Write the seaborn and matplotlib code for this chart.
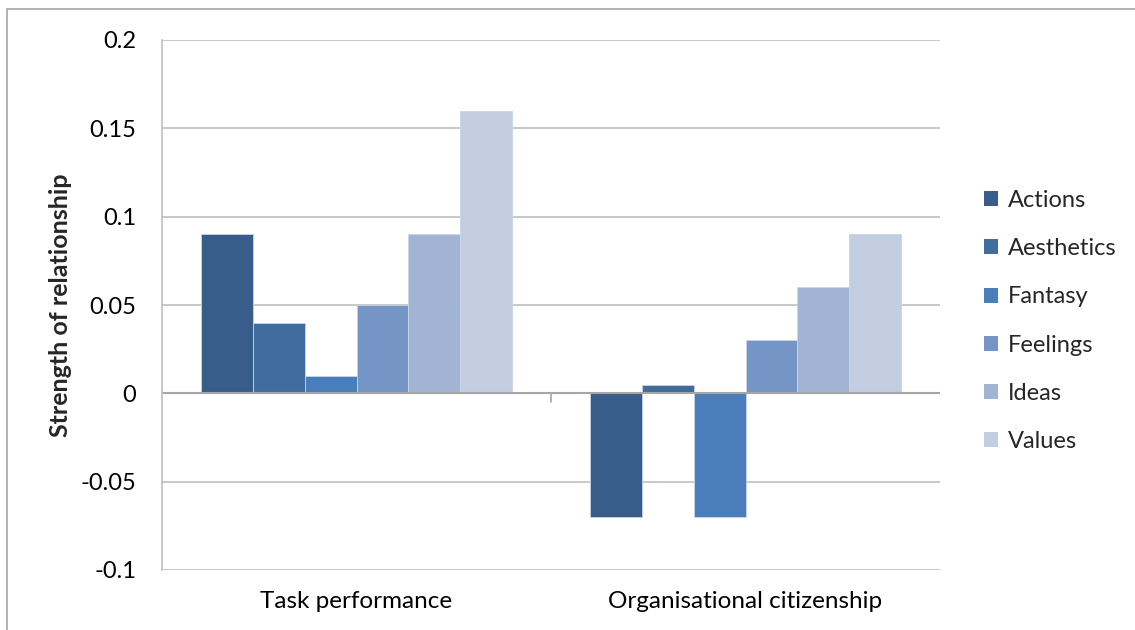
import matplotlib
matplotlib.use("Agg")
import matplotlib.pyplot as plt
import seaborn as sns
import pandas as pd
from matplotlib.patches import Rectangle, Patch

# --- data ---
categories = ["Task performance", "Organisational citizenship"]
facets = ["Actions", "Aesthetics", "Fantasy", "Feelings", "Ideas", "Values"]
task_performance = [0.09, 0.04, 0.01, 0.05, 0.09, 0.16]
organisational_citizenship = [-0.07, 0.005, -0.07, 0.03, 0.06, 0.09]
colours = ["#385D8A", "#416C9E", "#4A7EBB", "#7495C6", "#A1B4D4", "#C3CDE2"]
y_ticks = [-0.1, -0.05, 0, 0.05, 0.1, 0.15, 0.2]
y_tick_labels = ["-0.1", "-0.05", "0", "0.05", "0.1", "0.15", "0.2"]

# long form table for seaborn
rows = []
for cat, vals in zip(categories, [task_performance, organisational_citizenship]):
    for facet, v in zip(facets, vals):
        rows.append({"outcome": cat, "facet": facet, "strength": v})
df = pd.DataFrame(rows)

sns.set_style("white")
plt.rcParams["font.family"] = ["Lato", "DejaVu Sans"]

fig = plt.figure(figsize=(11.35, 6.3), dpi=100)
ax = fig.add_axes([162 / 1135, 1 - 570 / 630, (940 - 162) / 1135, (570 - 40) / 630])

grid_col = "#BFBFBF"
ax.set_axisbelow(True)
ax.yaxis.grid(True, color=grid_col, lw=1.2)

sns.barplot(
    data=df, x="outcome", y="strength", hue="facet",
    order=categories, hue_order=facets, palette=colours, saturation=1,
    width=0.8, gap=0, edgecolor="#C9D5E8", linewidth=0.6,
    legend=False, ax=ax,
)

ax.set_xlim(-0.5, 1.5)
ax.set_ylim(-0.1, 0.2)
ax.set_yticks(y_ticks)
ax.set_yticklabels(y_tick_labels)

# zero axis line with the category separator tick
ax.axhline(0, color="#A6A6A6", lw=1.5, zorder=1)
ax.plot([0.5, 0.5], [0, -0.005], color="#A6A6A6", lw=1.2, clip_on=False)

for side in ["top", "right", "bottom"]:
    ax.spines[side].set_visible(False)
ax.spines["left"].set_color(grid_col)
ax.spines["left"].set_linewidth(1.2)

ax.tick_params(axis="y", length=6.5, width=1, color=grid_col, pad=12,
               labelsize=17, labelcolor="black")
ax.tick_params(axis="x", length=0, pad=15, labelsize=17.5, labelcolor="black")

ax.set_xlabel("")
ax.set_ylabel("Strength of relationship", fontsize=18, fontweight="bold", labelpad=6)

handles = [Patch(facecolor=c, edgecolor="none") for c in colours]
fig.legend(handles, facets, loc="center left", bbox_to_anchor=(963 / 1135, 1 - 321 / 630),
           frameon=False, fontsize=17, handlelength=0.6, handleheight=0.6,
           handletextpad=0.4, labelspacing=1.15)

# outer light-grey frame of the chart object
fig.patches.append(Rectangle((7 / 1135, -0.02), 1.05, 1 - 9 / 630 + 0.02,
                             transform=fig.transFigure, fill=False,
                             edgecolor="#A6A6A6", lw=1.2))

fig.savefig("out.png", dpi=100, facecolor="white")
